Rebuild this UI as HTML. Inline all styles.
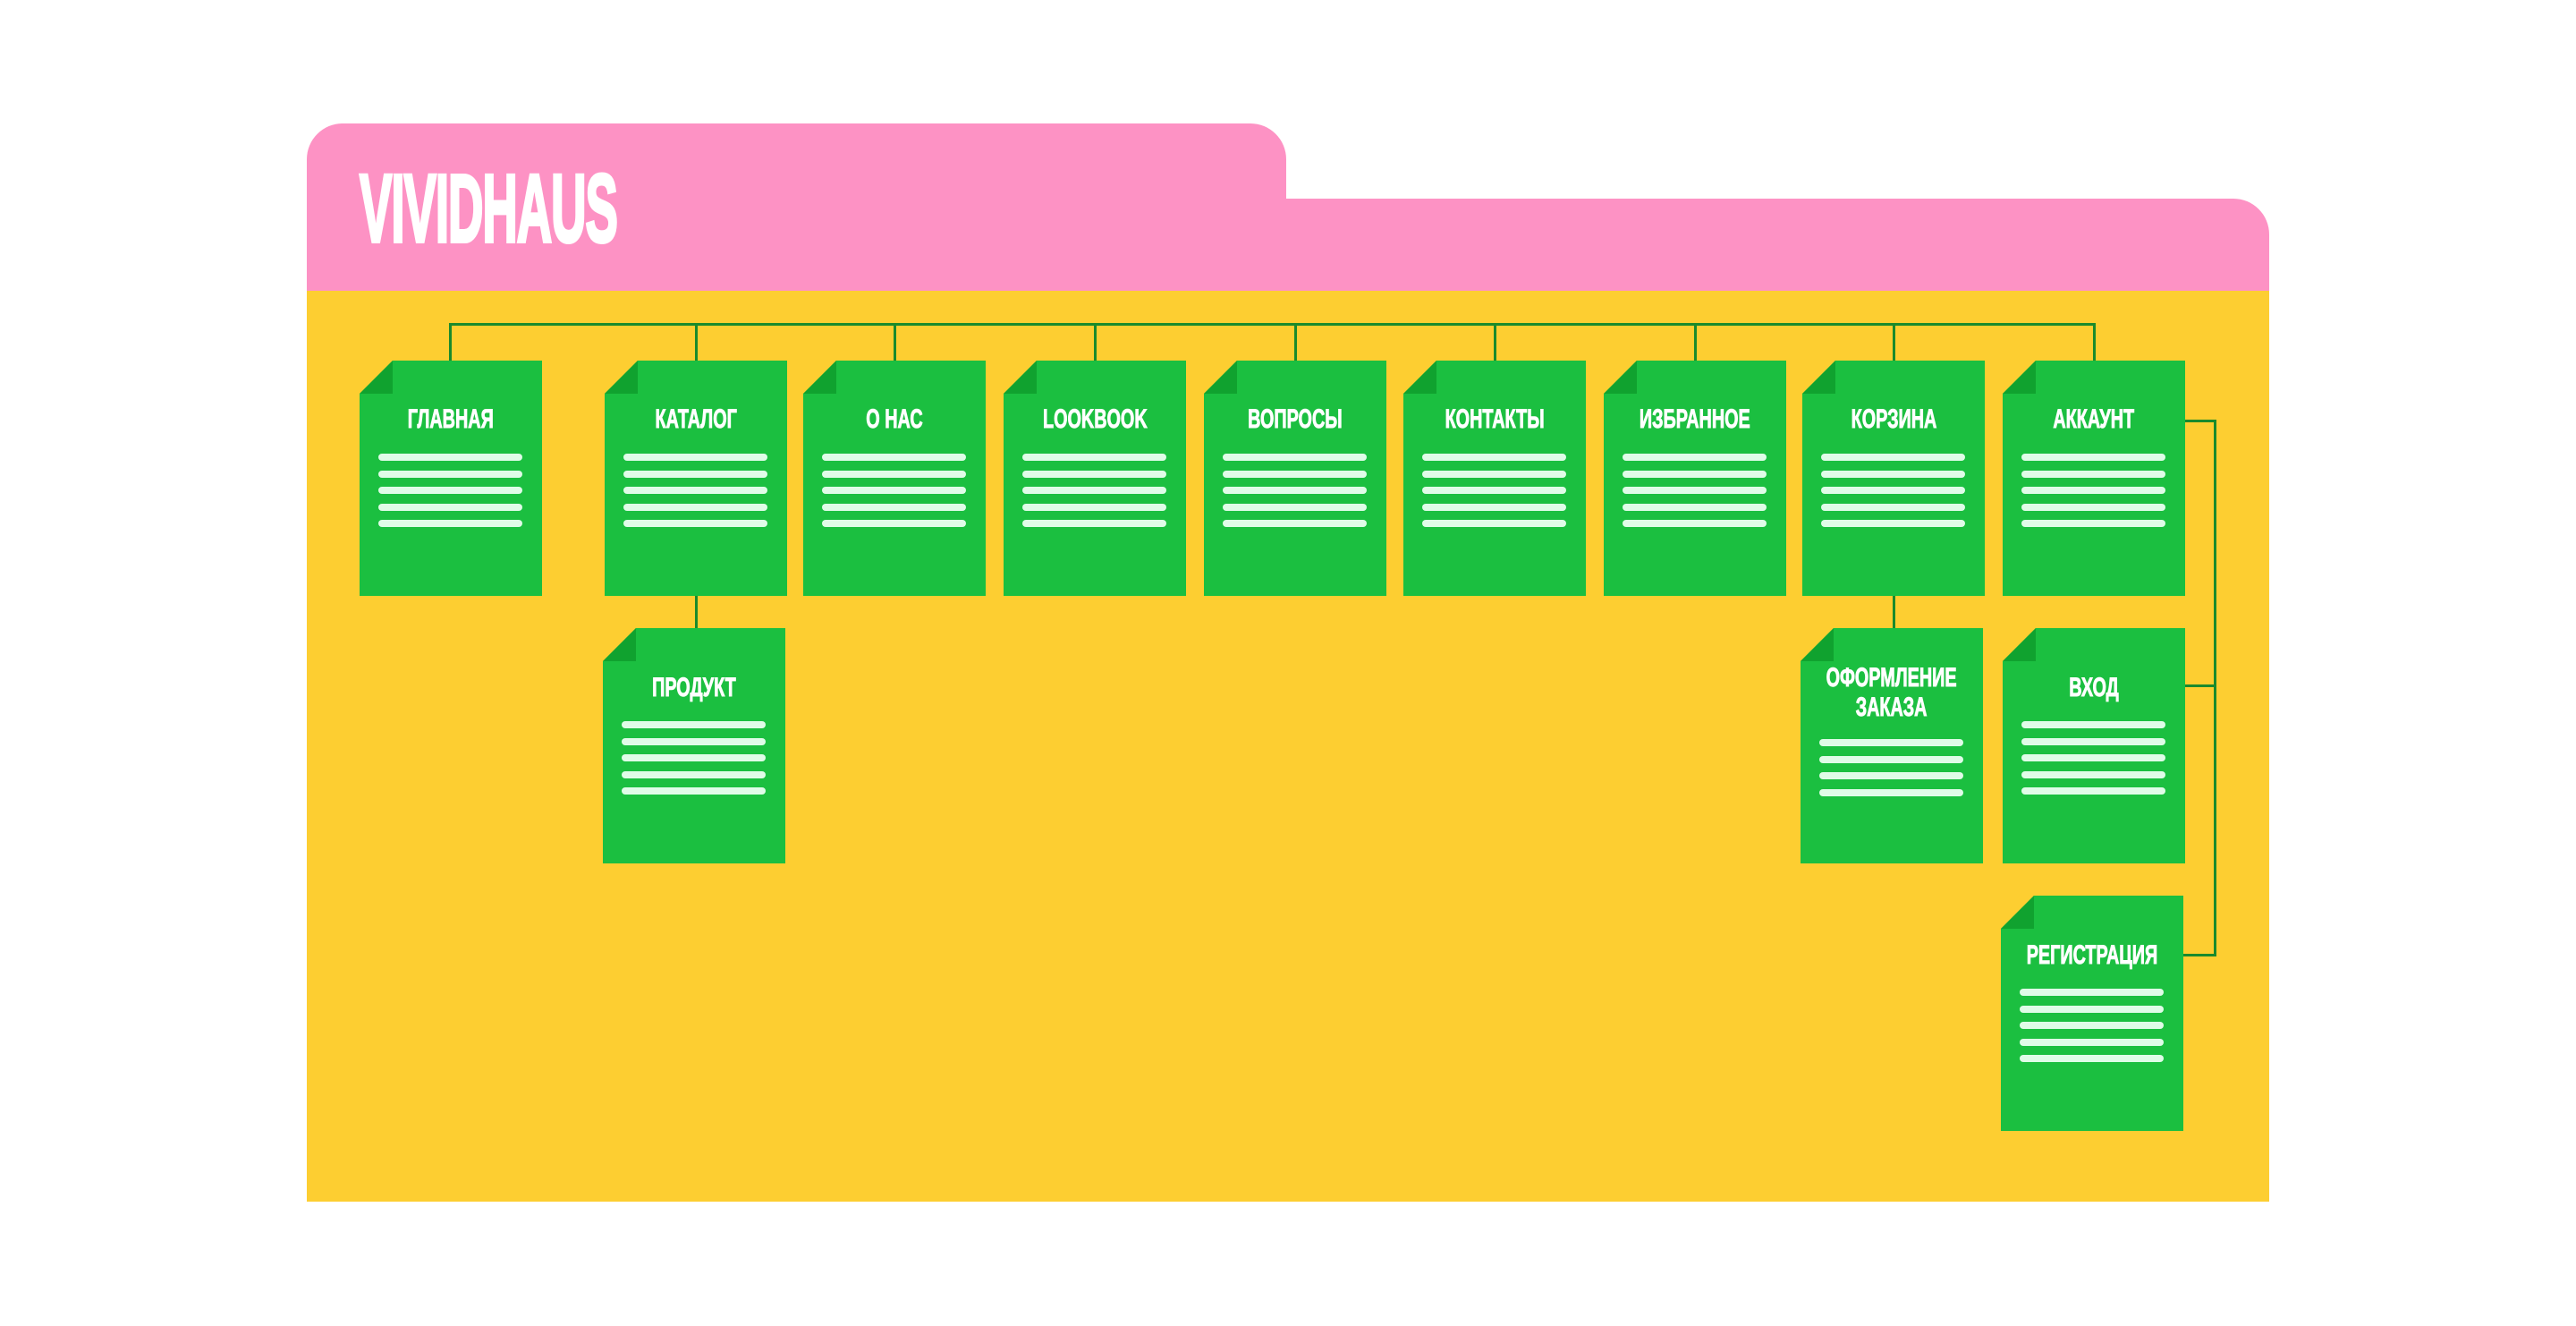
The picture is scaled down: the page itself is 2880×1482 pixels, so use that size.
<!DOCTYPE html>
<html><head><meta charset="utf-8"><style>
body{margin:0;width:2880px;height:1482px;background:#fff;position:relative;overflow:hidden;font-family:"Liberation Sans","DejaVu Sans",sans-serif}
.a{position:absolute}
.pink{background:#fd92c4}
.yel{background:#fdce31}
.ln{position:absolute;background:#1a8a2c}
.node{position:absolute;width:204px;height:263px}
.body{position:absolute;inset:0;background:#1bbf40;clip-path:polygon(37px 0,100% 0,100% 100%,0 100%,0 37px)}
.fold{position:absolute;left:0;top:0;width:37px;height:37px;background:#10a22f;clip-path:polygon(0 100%,100% 0,100% 100%)}
.t{position:absolute;left:-100px;right:-100px;text-align:center;color:#fff;font-weight:bold;font-size:30px;line-height:33px;-webkit-text-stroke:1px #fff;white-space:nowrap}
.t span{display:inline-block;transform:scaleX(.66)}
.bar{position:absolute;left:21px;width:161px;height:8px;border-radius:4px;background:#e0fce8}
</style></head><body>
<div class="a pink" style="left:343px;top:138px;width:1095px;height:200px;border-radius:40px 40px 0 0"></div>
<div class="a pink" style="left:343px;top:222px;width:2194px;height:110px;border-radius:0 40px 0 0"></div>
<div class="a yel" style="left:343px;top:325px;width:2194px;height:1018px"></div>
<div class="a" style="left:402px;top:180px;color:#fff;font-weight:bold;font-size:108px;line-height:105px;letter-spacing:-2px;transform:scaleX(.505);transform-origin:left top;white-space:nowrap;-webkit-text-stroke:4px #fff">VIVIDHAUS</div>

<div class="ln" style="left:503px;top:361px;width:1838px;height:3px"></div>
<div class="ln" style="left:502px;top:361px;width:3px;height:42px"></div>
<div class="ln" style="left:777px;top:361px;width:3px;height:42px"></div>
<div class="ln" style="left:999px;top:361px;width:3px;height:42px"></div>
<div class="ln" style="left:1223px;top:361px;width:3px;height:42px"></div>
<div class="ln" style="left:1447px;top:361px;width:3px;height:42px"></div>
<div class="ln" style="left:1670px;top:361px;width:3px;height:42px"></div>
<div class="ln" style="left:1894px;top:361px;width:3px;height:42px"></div>
<div class="ln" style="left:2116px;top:361px;width:3px;height:42px"></div>
<div class="ln" style="left:2340px;top:361px;width:3px;height:42px"></div>
<div class="ln" style="left:777px;top:664px;width:3px;height:40px"></div>
<div class="ln" style="left:2116px;top:664px;width:3px;height:40px"></div>
<div class="ln" style="left:2475px;top:469px;width:3px;height:599px"></div>
<div class="ln" style="left:2443px;top:469px;width:35px;height:3px"></div>
<div class="ln" style="left:2443px;top:765px;width:35px;height:3px"></div>
<div class="ln" style="left:2441px;top:1066px;width:37px;height:3px"></div>

<!-- row 1 -->
<div class="node" style="left:402px;top:403px"><div class="body"></div><div class="fold"></div><div class="t" style="top:49px"><span>ГЛАВНАЯ</span></div><div class="bar" style="top:104px"></div><div class="bar" style="top:123px"></div><div class="bar" style="top:141px"></div><div class="bar" style="top:160px"></div><div class="bar" style="top:178px"></div></div>
<div class="node" style="left:676px;top:403px"><div class="body"></div><div class="fold"></div><div class="t" style="top:49px"><span>КАТАЛОГ</span></div><div class="bar" style="top:104px"></div><div class="bar" style="top:123px"></div><div class="bar" style="top:141px"></div><div class="bar" style="top:160px"></div><div class="bar" style="top:178px"></div></div>
<div class="node" style="left:898px;top:403px"><div class="body"></div><div class="fold"></div><div class="t" style="top:49px"><span>О НАС</span></div><div class="bar" style="top:104px"></div><div class="bar" style="top:123px"></div><div class="bar" style="top:141px"></div><div class="bar" style="top:160px"></div><div class="bar" style="top:178px"></div></div>
<div class="node" style="left:1122px;top:403px"><div class="body"></div><div class="fold"></div><div class="t" style="top:49px"><span>LOOKBOOK</span></div><div class="bar" style="top:104px"></div><div class="bar" style="top:123px"></div><div class="bar" style="top:141px"></div><div class="bar" style="top:160px"></div><div class="bar" style="top:178px"></div></div>
<div class="node" style="left:1346px;top:403px"><div class="body"></div><div class="fold"></div><div class="t" style="top:49px"><span>ВОПРОСЫ</span></div><div class="bar" style="top:104px"></div><div class="bar" style="top:123px"></div><div class="bar" style="top:141px"></div><div class="bar" style="top:160px"></div><div class="bar" style="top:178px"></div></div>
<div class="node" style="left:1569px;top:403px"><div class="body"></div><div class="fold"></div><div class="t" style="top:49px"><span>КОНТАКТЫ</span></div><div class="bar" style="top:104px"></div><div class="bar" style="top:123px"></div><div class="bar" style="top:141px"></div><div class="bar" style="top:160px"></div><div class="bar" style="top:178px"></div></div>
<div class="node" style="left:1793px;top:403px"><div class="body"></div><div class="fold"></div><div class="t" style="top:49px"><span>ИЗБРАННОЕ</span></div><div class="bar" style="top:104px"></div><div class="bar" style="top:123px"></div><div class="bar" style="top:141px"></div><div class="bar" style="top:160px"></div><div class="bar" style="top:178px"></div></div>
<div class="node" style="left:2015px;top:403px"><div class="body"></div><div class="fold"></div><div class="t" style="top:49px"><span>КОРЗИНА</span></div><div class="bar" style="top:104px"></div><div class="bar" style="top:123px"></div><div class="bar" style="top:141px"></div><div class="bar" style="top:160px"></div><div class="bar" style="top:178px"></div></div>
<div class="node" style="left:2239px;top:403px"><div class="body"></div><div class="fold"></div><div class="t" style="top:49px"><span>АККАУНТ</span></div><div class="bar" style="top:104px"></div><div class="bar" style="top:123px"></div><div class="bar" style="top:141px"></div><div class="bar" style="top:160px"></div><div class="bar" style="top:178px"></div></div>

<!-- row 2 -->
<div class="node" style="left:674px;top:702px"><div class="body"></div><div class="fold"></div><div class="t" style="top:50px"><span>ПРОДУКТ</span></div><div class="bar" style="top:104px"></div><div class="bar" style="top:123px"></div><div class="bar" style="top:141px"></div><div class="bar" style="top:160px"></div><div class="bar" style="top:178px"></div></div>
<div class="node" style="left:2013px;top:702px"><div class="body"></div><div class="fold"></div><div class="t" style="top:39px"><span>ОФОРМЛЕНИЕ<br>ЗАКАЗА</span></div><div class="bar" style="top:124px"></div><div class="bar" style="top:143px"></div><div class="bar" style="top:161px"></div><div class="bar" style="top:180px"></div></div>
<div class="node" style="left:2239px;top:702px"><div class="body"></div><div class="fold"></div><div class="t" style="top:50px"><span>ВХОД</span></div><div class="bar" style="top:104px"></div><div class="bar" style="top:123px"></div><div class="bar" style="top:141px"></div><div class="bar" style="top:160px"></div><div class="bar" style="top:178px"></div></div>

<!-- row 3 -->
<div class="node" style="left:2237px;top:1001px"><div class="body"></div><div class="fold"></div><div class="t" style="top:50px"><span>РЕГИСТРАЦИЯ</span></div><div class="bar" style="top:104px"></div><div class="bar" style="top:123px"></div><div class="bar" style="top:141px"></div><div class="bar" style="top:160px"></div><div class="bar" style="top:178px"></div></div>
</body></html>
